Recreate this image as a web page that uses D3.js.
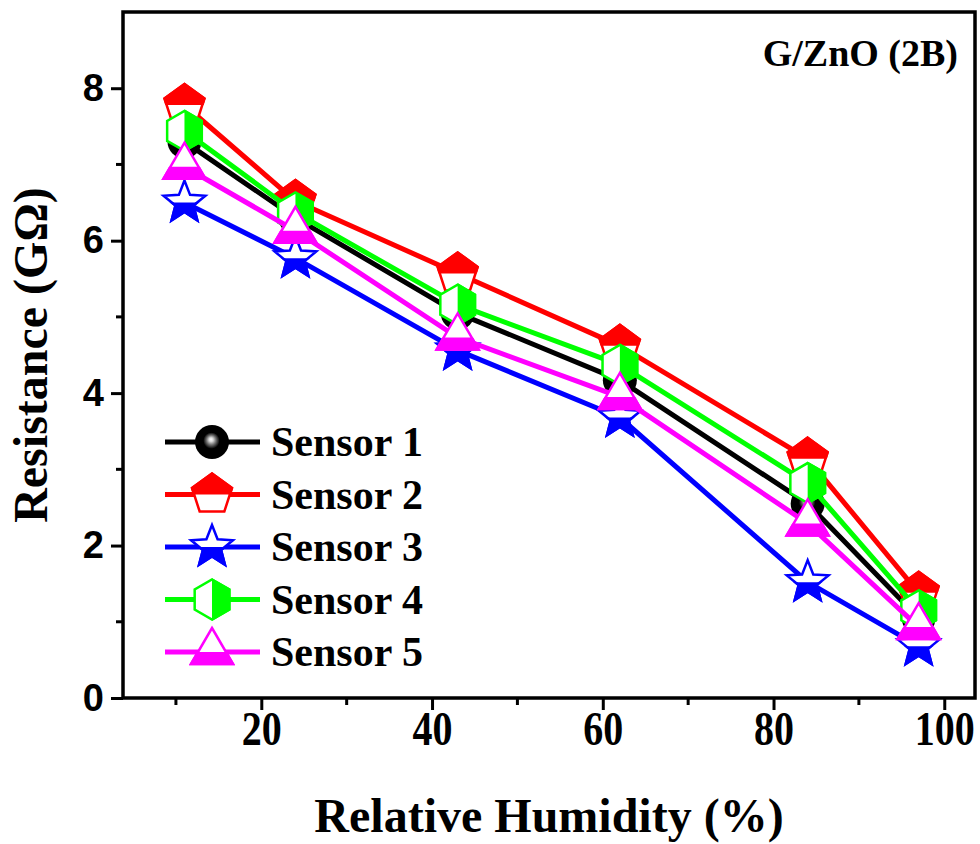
<!DOCTYPE html>
<html>
<head>
<meta charset="utf-8">
<script src="https://cdn.jsdelivr.net/npm/d3@7"></script>
<style>
  body { margin: 0; background: #fff; }
  svg { display: block; }
</style>
</head>
<body>
<svg id="chart" width="980" height="844"></svg>
<script>
// relative humidity levels (%)
const rh = [11, 24, 43, 62, 84, 97];

// resistance in GOhm
const sensor1 = [7.30, 6.30, 5.05, 4.17, 2.55, 1.05];
const sensor2 = [7.78, 6.52, 5.57, 4.62, 3.14, 1.38];
const sensor3 = [6.50, 5.77, 4.56, 3.68, 1.52, 0.68];
const sensor4 = [7.44, 6.37, 5.16, 4.37, 2.82, 1.15];
const sensor5 = [6.97, 6.13, 4.73, 3.95, 2.29, 0.93];

const seriesNames = ["Sensor 1", "Sensor 2", "Sensor 3", "Sensor 4", "Sensor 5"];
const seriesColors = ["#000000", "#ff0000", "#0000ff", "#00ff00", "#ff00ff"];
const seriesSymbols = ["ball", "pentagon", "star", "hexagon", "triangle"];

const xTicks = [20, 40, 60, 80, 100];
const xMinorTicks = [10, 30, 50, 70, 90];
const yTicks = [0, 2, 4, 6, 8];
const yMinorTicks = [1, 3, 5, 7];

const series = [sensor1, sensor2, sensor3, sensor4, sensor5].map((vals, i) => ({
  name: seriesNames[i],
  color: seriesColors[i],
  symbol: seriesSymbols[i],
  values: vals.map((v, j) => ({ rh: rh[j], r: v })),
}));

const svg = d3.select("#chart");
const box = { left: 123, right: 975, top: 12, bottom: 698 };

const x = d3.scaleLinear().domain([3.8, 103.6]).range([box.left, box.right]);
const y = d3.scaleLinear().domain([0, 9]).range([box.bottom, box.top]);

const serif = "'Liberation Serif', 'Times New Roman', serif";
const sans = "'Liberation Sans', Arial, sans-serif";

// clip paths and the ball gradient
const defs = svg.append("defs");
defs.append("clipPath").attr("id", "clip-top")
  .append("rect").attr("x", -40).attr("y", -40).attr("width", 80).attr("height", 40);
defs.append("clipPath").attr("id", "clip-bottom")
  .append("rect").attr("x", -40).attr("y", 0).attr("width", 80).attr("height", 40);
defs.append("clipPath").attr("id", "clip-right")
  .append("rect").attr("x", 0).attr("y", -40).attr("width", 40).attr("height", 80);

const grad = defs.append("radialGradient").attr("id", "ball")
  .attr("cx", 0.5).attr("cy", 0.5).attr("r", 0.5).attr("fx", 0.47).attr("fy", 0.42);
grad.append("stop").attr("offset", 0).attr("stop-color", "#ffffff");
grad.append("stop").attr("offset", 0.12).attr("stop-color", "#d8d8d8");
grad.append("stop").attr("offset", 0.28).attr("stop-color", "#707070");
grad.append("stop").attr("offset", 0.48).attr("stop-color", "#000000");
grad.append("stop").attr("offset", 1).attr("stop-color", "#000000");

const polygon = (n, r, rot) => {
  const pts = d3.range(n).map(k => {
    const a = rot + k * 2 * Math.PI / n;
    return [r * Math.cos(a), r * Math.sin(a)];
  });
  return "M" + pts.map(p => p.join(",")).join("L") + "Z";
};

const starPath = (ro, ri) => {
  const pts = d3.range(10).map(k => {
    const a = -Math.PI / 2 + k * Math.PI / 5;
    const r = k % 2 ? ri : ro;
    return [r * Math.cos(a), r * Math.sin(a)];
  });
  return "M" + pts.map(p => p.join(",")).join("L") + "Z";
};

const shapes = {
  pentagon: { d: polygon(5, 21, -Math.PI / 2), clip: "clip-top" },
  star: { d: starPath(22, 9.5), clip: "clip-bottom" },
  hexagon: { d: polygon(6, 20, -Math.PI / 2), clip: "clip-right" },
  triangle: { d: "M0,-24L21,12L-21,12Z", clip: "clip-bottom" },
};

function drawMarker(g, symbol, color) {
  if (symbol === "ball") {
    g.append("circle").attr("r", 17).attr("fill", "url(#ball)");
    return;
  }
  const s = shapes[symbol];
  g.append("path").attr("d", s.d).attr("fill", "#fff")
    .attr("stroke", color).attr("stroke-width", 2.5).attr("stroke-linejoin", "miter");
  g.append("path").attr("d", s.d).attr("fill", color)
    .attr("stroke", color).attr("stroke-width", 2.5)
    .attr("clip-path", `url(#${s.clip})`);
}

// axes ticks
const yAxis = svg.append("g").attr("transform", `translate(${box.left},0)`)
  .call(d3.axisLeft(y).tickValues(yTicks).tickSize(12).tickSizeOuter(0).tickPadding(7).tickFormat(d3.format("d")));
yAxis.select(".domain").remove();
yAxis.selectAll(".tick line").attr("stroke-width", 3);
yAxis.selectAll(".tick text")
  .attr("font-family", sans).attr("font-weight", "bold").attr("font-size", 38).attr("fill", "#000");

svg.append("g").selectAll("line").data(yMinorTicks).join("line")
  .attr("x1", box.left - 7).attr("x2", box.left)
  .attr("y1", d => y(d)).attr("y2", d => y(d))
  .attr("stroke", "#000").attr("stroke-width", 3);

const xAxis = svg.append("g").attr("transform", `translate(0,${box.bottom})`)
  .call(d3.axisBottom(x).tickValues(xTicks).tickSize(12).tickSizeOuter(0));
xAxis.select(".domain").remove();
xAxis.selectAll(".tick line").attr("stroke-width", 3);
// labels look a bit tall and narrow in the source, stretch them vertically
xAxis.selectAll(".tick text")
  .attr("y", 0).attr("dy", 0)
  .attr("transform", "translate(0,47) scale(1,1.2)")
  .attr("font-family", serif).attr("font-weight", "bold").attr("font-size", 40).attr("fill", "#000");

svg.append("g").selectAll("line").data(xMinorTicks).join("line")
  .attr("x1", d => x(d)).attr("x2", d => x(d))
  .attr("y1", box.bottom).attr("y2", box.bottom + 7)
  .attr("stroke", "#000").attr("stroke-width", 3);

// frame
svg.append("rect")
  .attr("x", box.left).attr("y", box.top)
  .attr("width", box.right - box.left).attr("height", box.bottom - box.top)
  .attr("fill", "none").attr("stroke", "#000").attr("stroke-width", 3.5);

// series: line then symbols, drawn in order
const line = d3.line().x(d => x(d.rh)).y(d => y(d.r));
series.forEach(s => {
  const g = svg.append("g");
  g.append("path").datum(s.values).attr("d", line)
    .attr("fill", "none").attr("stroke", s.color).attr("stroke-width", 5)
    .attr("stroke-linejoin", "round");
  g.selectAll("g.pt").data(s.values).join("g").attr("class", "pt")
    .attr("transform", d => `translate(${x(d.rh)},${y(d.r)})`)
    .each(function () { drawMarker(d3.select(this), s.symbol, s.color); });
});

// legend
const legend = svg.append("g");
series.forEach((s, i) => {
  const ly = 442 + i * 52.5;
  const row = legend.append("g").attr("transform", `translate(0,${ly})`);
  row.append("line").attr("x1", 165).attr("x2", 260).attr("y1", 0).attr("y2", 0)
    .attr("stroke", s.color).attr("stroke-width", 5);
  drawMarker(row.append("g").attr("transform", "translate(212,0)"), s.symbol, s.color);
  row.append("text").attr("x", 271).attr("y", 14)
    .attr("font-family", serif).attr("font-weight", "bold").attr("font-size", 42)
    .text(s.name);
});

// panel label
svg.append("text").attr("x", 958).attr("y", 66).attr("text-anchor", "end")
  .attr("font-family", serif).attr("font-weight", "bold").attr("font-size", 38)
  .text("G/ZnO (2B)");

// axis titles
svg.append("text").attr("x", (box.left + box.right) / 2).attr("y", 832)
  .attr("text-anchor", "middle")
  .attr("font-family", serif).attr("font-weight", "bold").attr("font-size", 48)
  .text("Relative Humidity (%)");

svg.append("text")
  .attr("transform", `translate(47,${(box.top + box.bottom) / 2}) rotate(-90)`)
  .attr("text-anchor", "middle")
  .attr("font-family", serif).attr("font-weight", "bold").attr("font-size", 48)
  .text("Resistance (GΩ)");
</script>
</body>
</html>
